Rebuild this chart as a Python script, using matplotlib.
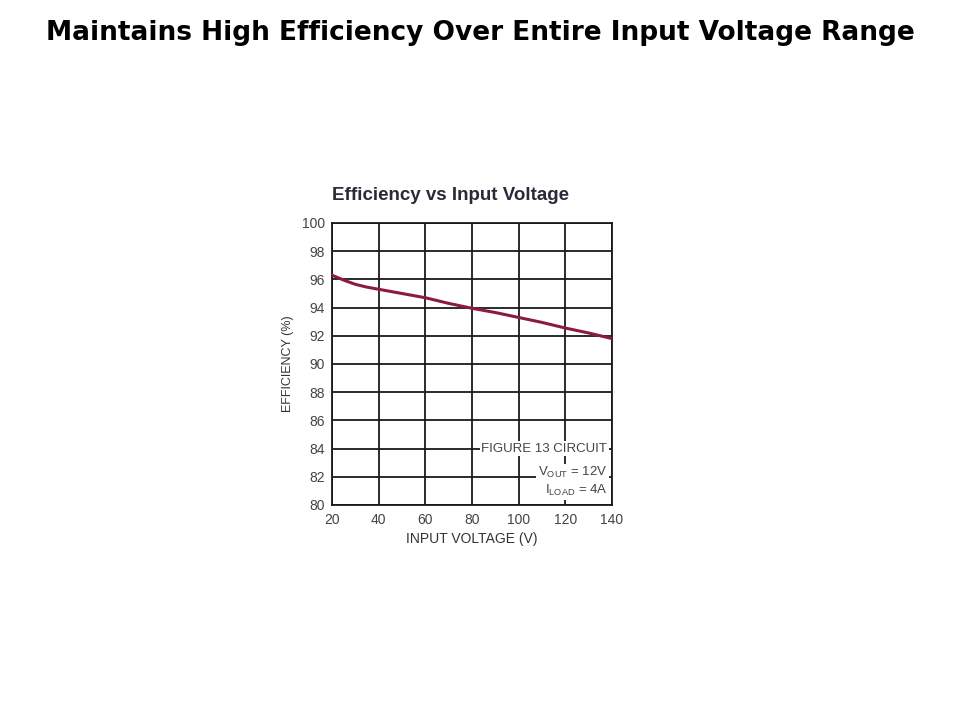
import matplotlib
matplotlib.use("Agg")
import matplotlib.pyplot as plt
from matplotlib import font_manager

input_voltage = [20, 25, 30, 35, 40, 50, 60, 70, 80, 90, 100, 110, 120, 130, 140]
efficiency = [96.3, 95.95, 95.65, 95.45, 95.3, 95.0, 94.7, 94.3, 93.95, 93.65, 93.3, 92.95, 92.55, 92.2, 91.8]
x_ticks = [20, 40, 60, 80, 100, 120, 140]
y_ticks = [80, 82, 84, 86, 88, 90, 92, 94, 96, 98, 100]

names = {f.name for f in font_manager.fontManager.ttflist}
narrow = "Liberation Sans Narrow" if "Liberation Sans Narrow" in names else "Liberation Sans"

fig = plt.figure(figsize=(9.6, 7.2), dpi=100)
fig.text(480 / 960, 1 - 33 / 720, "Maintains High Efficiency Over Entire Input Voltage Range",
         ha="center", va="center", fontsize=19, fontweight="bold", family="DejaVu Sans", color="black")

ax = fig.add_axes([332 / 960, 1 - 505 / 720, 280 / 960, 282 / 720])
ax.plot(input_voltage, efficiency, color="#8c1c3c", lw=2.2, zorder=3)
ax.set_xlim(20, 140)
ax.set_ylim(80, 100)
ax.set_xticks(x_ticks)
ax.set_yticks(y_ticks)
ax.grid(True, color="#1a1a1a", lw=1.3)
for s in ax.spines.values():
    s.set_color("#1a1a1a")
    s.set_linewidth(1.3)
ax.tick_params(length=0, labelsize=10, labelcolor="#444444")
ax.tick_params(axis="x", pad=5.5)
ax.tick_params(axis="y", pad=5)
for lbl in ax.get_xticklabels() + ax.get_yticklabels():
    lbl.set_family(narrow)
ax.set_xlabel("INPUT VOLTAGE (V)", fontsize=10, color="#333333", family=narrow, labelpad=4)
ax.set_ylabel("EFFICIENCY (%)", fontsize=9, color="#333333", family=narrow, labelpad=6)
fig.text(451 / 960, 1 - 195 / 720, "Efficiency vs Input Voltage", ha="center", va="center",
         fontsize=13.5, fontweight="bold", color="#2a2a38", family=narrow)

box = dict(facecolor="white", edgecolor="none", pad=1.0)
ax.text(138, 84.0, "FIGURE 13 CIRCUIT", ha="right", va="center", fontsize=9.5,
        color="#444444", family=narrow, bbox=box, zorder=4)
ax.text(138, 82.3, r"V$_{\mathregular{OUT}}$ = 12V", ha="right", va="center", fontsize=9.5,
        color="#444444", family=narrow, bbox=box, zorder=4)
ax.text(138, 81.0, r"I$_{\mathregular{LOAD}}$ = 4A", ha="right", va="center", fontsize=9.5,
        color="#444444", family=narrow, bbox=box, zorder=4)

fig.savefig("out.png", dpi=100)
